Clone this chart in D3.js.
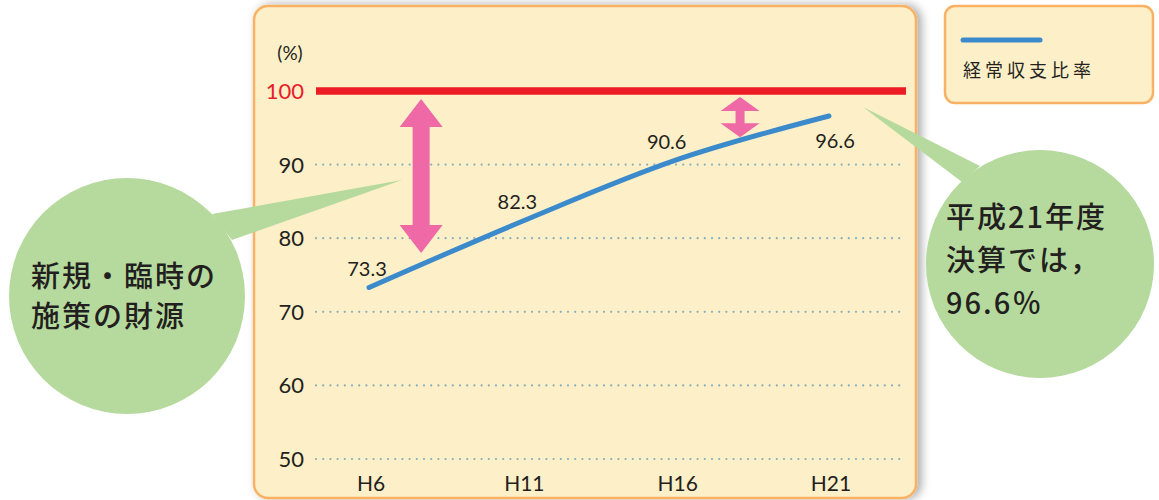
<!DOCTYPE html>
<html>
<head>
<meta charset="utf-8">
<script src="https://cdn.jsdelivr.net/npm/d3@7"></script>
<style>
  body { margin: 0; background: #fff; }
  svg { display: block; }
</style>
</head>
<body>
<div id="chart"></div>
<script>
// data
const years = [6, 11, 16, 21]
const yearLabels = ['H6', 'H11', 'H16', 'H21']
const ratio = [73.3, 82.3, 90.6, 96.6]
const yTicks = [50, 60, 70, 80, 90]
const seriesName = '経常収支比率'
// gap arrows (year position, from value, to value)
const gapArrows = [
  { year: 7.7, top: 98.9, bottom: 78.0, big: true },
  { year: 18.1, top: 99.2, bottom: 93.7, big: false }
]
const leftNote = ['新規・臨時の', '施策の財源']
const rightNote = ['平成21年度', '決算では，', '96.6％']

const width = 1159
const height = 500

const svg = d3
  .select('#chart')
  .append('svg')
  .attr('width', width)
  .attr('height', height)

const defs = svg.append('defs')
const shadow = defs.append('filter').attr('id', 'shadow')
  .attr('x', '-10%').attr('y', '-10%').attr('width', '120%').attr('height', '120%')
shadow.append('feDropShadow')
  .attr('dx', 4).attr('dy', 0).attr('stdDeviation', 5)
  .attr('flood-color', '#000').attr('flood-opacity', 0.35)

const xScale = d3.scaleLinear().domain([6, 21]).range([369, 829])
const yScale = d3.scaleLinear().domain([50, 100]).range([459, 91])

const gridLeft = 316
const gridRight = 906
const numFont = 'Lato, "Liberation Sans", sans-serif'
const cjkFont = '"Noto Sans CJK JP", sans-serif'

// panel
svg.append('rect')
  .attr('x', 254).attr('y', 6)
  .attr('width', 662).attr('height', 492)
  .attr('rx', 14)
  .attr('fill', '#fdefc7')
  .attr('stroke', '#f8b165')
  .attr('stroke-width', 2.5)
  .attr('filter', 'url(#shadow)')

// dotted grid lines
svg.selectAll('.grid')
  .data(yTicks)
  .enter()
  .append('line')
  .attr('class', 'grid')
  .attr('x1', gridLeft)
  .attr('x2', gridRight)
  .attr('y1', d => yScale(d))
  .attr('y2', d => yScale(d))
  .attr('stroke', '#86aebb')
  .attr('stroke-width', 2.2)
  .attr('stroke-linecap', 'round')
  .attr('stroke-dasharray', '0 7.2')

svg.selectAll('.ytick')
  .data(yTicks.concat([100]))
  .enter()
  .append('text')
  .attr('class', 'ytick')
  .attr('x', 304)
  .attr('y', d => yScale(d))
  .attr('dy', '0.36em')
  .attr('text-anchor', 'end')
  .attr('font-family', numFont)
  .attr('font-size', 22)
  .attr('fill', d => (d === 100 ? '#e8202a' : '#231f20'))
  .text(d => d)

svg.append('text')
  .attr('x', 290).attr('y', 53)
  .attr('dy', '0.36em')
  .attr('text-anchor', 'middle')
  .attr('font-family', numFont)
  .attr('font-size', 19)
  .attr('fill', '#231f20')
  .text('(%)')

// 100% line
svg.append('line')
  .attr('x1', gridLeft).attr('x2', gridRight)
  .attr('y1', yScale(100)).attr('y2', yScale(100))
  .attr('stroke', '#ed1c24')
  .attr('stroke-width', 7.5)

// x labels
svg.selectAll('.xlab')
  .data(years)
  .enter()
  .append('text')
  .attr('class', 'xlab')
  .attr('x', d => xScale(d) + 2)
  .attr('y', 483)
  .attr('dy', '0.36em')
  .attr('text-anchor', 'middle')
  .attr('font-family', numFont)
  .attr('font-size', 21)
  .attr('fill', '#231f20')
  .text((d, i) => yearLabels[i])

// ratio line
const line = d3.line()
  .x(d => xScale(d.year))
  .y(d => yScale(d.value))
  .curve(d3.curveMonotoneX)

const points = years.map((y, i) => ({ year: y, value: ratio[i] }))

svg.append('path')
  .datum(points)
  .attr('d', line)
  .attr('fill', 'none')
  .attr('stroke', '#3b8acb')
  .attr('stroke-width', 5)
  .attr('stroke-linecap', 'round')

// value labels, offsets from the point
const labelOffsets = [[-2, -12], [-5, -12], [-9, -11], [6, 32]]
svg.selectAll('.vlab')
  .data(points)
  .enter()
  .append('text')
  .attr('class', 'vlab')
  .attr('x', (d, i) => xScale(d.year) + labelOffsets[i][0])
  .attr('y', (d, i) => yScale(d.value) + labelOffsets[i][1])
  .attr('text-anchor', 'middle')
  .attr('font-family', numFont)
  .attr('font-size', 20)
  .attr('fill', '#231f20')
  .text(d => d.value.toFixed(1))

// pink double arrows
function arrowPath(d) {
  const x = xScale(d.year)
  const t = yScale(d.top)
  const b = yScale(d.bottom)
  const hw = d.big ? 21.5 : 19.5
  const hh = d.big ? 28 : 14
  const sw = d.big ? 8.5 : 4.5
  return [
    [x, t], [x + hw, t + hh], [x + sw, t + hh], [x + sw, b - hh],
    [x + hw, b - hh], [x, b], [x - hw, b - hh], [x - sw, b - hh],
    [x - sw, t + hh], [x - hw, t + hh]
  ].map(p => p.join(',')).join(' ')
}

svg.selectAll('.gap')
  .data(gapArrows)
  .enter()
  .append('polygon')
  .attr('class', 'gap')
  .attr('points', arrowPath)
  .attr('fill', '#ef69a6')

// speech bubbles
const green = '#b6da9d'

const leftBubble = svg.append('g')
leftBubble.append('polygon')
  .attr('points', '402,180 212,214 232,240')
  .attr('fill', green)
leftBubble.append('circle')
  .attr('cx', 127).attr('cy', 296).attr('r', 118)
  .attr('fill', green)
leftBubble.selectAll('text')
  .data(leftNote)
  .enter()
  .append('text')
  .attr('x', 31)
  .attr('y', (d, i) => 277 + i * 40)
  .attr('dy', '0.36em')
  .attr('font-family', cjkFont)
  .attr('font-size', 29)
  .attr('font-weight', 500)
  .attr('letter-spacing', 2)
  .attr('fill', '#231f20')
  .text(d => d)

const rightBubble = svg.append('g')
rightBubble.append('polygon')
  .attr('points', '863,107 980,166 962,182')
  .attr('fill', green)
rightBubble.append('circle')
  .attr('cx', 1040).attr('cy', 264).attr('r', 114)
  .attr('fill', green)
rightBubble.selectAll('text')
  .data(rightNote)
  .enter()
  .append('text')
  .attr('x', 946)
  .attr('y', (d, i) => 218 + i * 43)
  .attr('dy', '0.36em')
  .attr('font-family', cjkFont)
  .attr('font-size', 29)
  .attr('font-weight', 500)
  .attr('letter-spacing', 2)
  .attr('fill', '#231f20')
  .text(d => d)

// legend
svg.append('rect')
  .attr('x', 945).attr('y', 6)
  .attr('width', 208).attr('height', 97)
  .attr('rx', 10)
  .attr('fill', '#fdefc7')
  .attr('stroke', '#f8b165')
  .attr('stroke-width', 2.5)

svg.append('line')
  .attr('x1', 963).attr('x2', 1040)
  .attr('y1', 40).attr('y2', 40)
  .attr('stroke', '#3b8acb')
  .attr('stroke-width', 5)
  .attr('stroke-linecap', 'round')

svg.append('text')
  .attr('x', 963).attr('y', 71)
  .attr('dy', '0.36em')
  .attr('font-family', cjkFont)
  .attr('font-size', 18)
  .attr('letter-spacing', 4)
  .attr('fill', '#231f20')
  .text(seriesName)
</script>
</body>
</html>
